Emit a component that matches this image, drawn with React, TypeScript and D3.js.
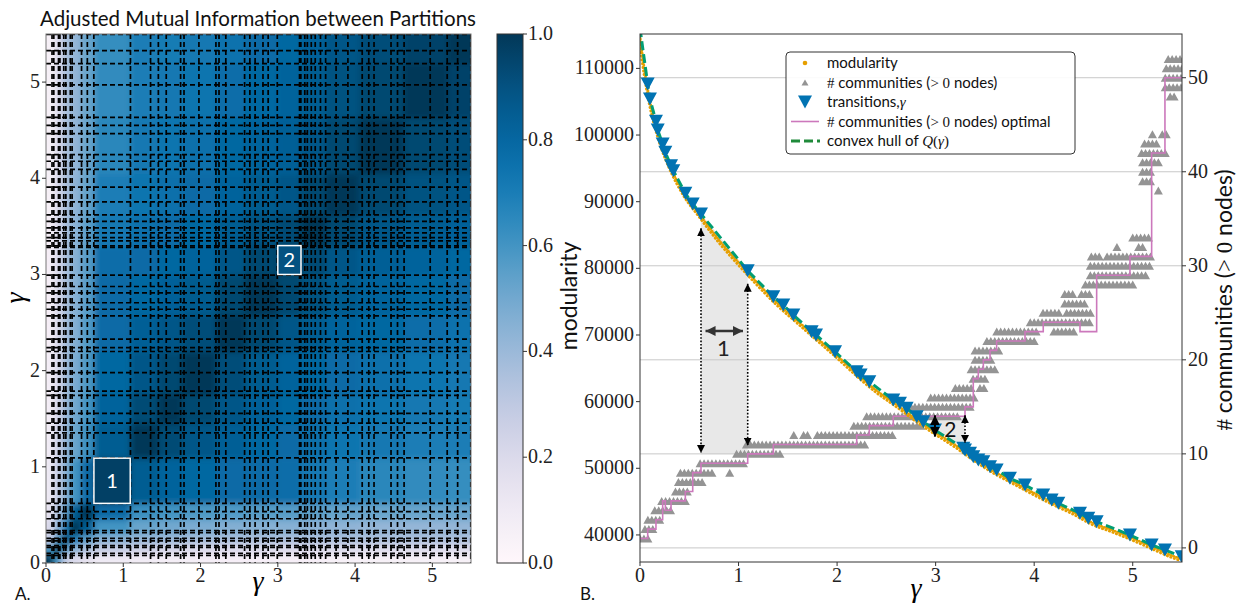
import { useEffect, useRef } from 'react';
import * as d3 from 'd3';

const W = 1241;
const H = 607;
const SERIF = '"Liberation Serif", "DejaVu Serif", serif';
const SANS = 'Lato, "Open Sans", sans-serif';

// ---------- panel A : AMI between partitions ----------
const HEAT_EDGES = [0, 0.1, 0.2, 0.3, 0.45, 0.62, 1.09, 1.45, 1.76, 2.2, 2.58, 3.0, 3.3, 3.62, 4.05, 4.63, 5.2, 5.5];

// rows = y blocks (bottom to top), columns = x blocks (left to right)
const AMI = [
  [1.00, .60, .30, .20, .15, .10, .08, .07, .07, .06, .06, .06, .06, .05, .05, .05, .05],
  [.60, 1.00, .60, .45, .35, .28, .25, .22, .20, .20, .20, .20, .20, .20, .18, .18, .18],
  [.30, .60, 1.00, .70, .55, .45, .42, .40, .38, .37, .36, .36, .36, .36, .36, .36, .36],
  [.20, .45, .70, 1.00, .85, .60, .52, .50, .48, .46, .45, .45, .44, .43, .42, .42, .42],
  [.15, .35, .55, .85, 1.00, .78, .62, .60, .58, .57, .56, .56, .55, .53, .52, .52, .52],
  [.10, .28, .45, .60, .78, 1.00, .85, .82, .80, .78, .78, .77, .72, .70, .66, .64, .63],
  [.08, .25, .42, .52, .62, .85, 1.00, .93, .88, .84, .80, .78, .76, .74, .72, .70, .70],
  [.07, .22, .40, .50, .60, .82, .93, 1.00, .94, .88, .83, .80, .78, .76, .74, .72, .71],
  [.07, .20, .38, .48, .58, .80, .88, .94, 1.00, .92, .86, .82, .80, .78, .76, .74, .72],
  [.06, .20, .37, .46, .57, .78, .84, .88, .92, 1.00, .94, .88, .85, .82, .80, .77, .75],
  [.06, .20, .36, .45, .56, .78, .80, .83, .86, .94, 1.00, .94, .90, .86, .82, .80, .78],
  [.06, .20, .36, .45, .56, .77, .78, .80, .82, .88, .94, 1.00, .93, .88, .84, .82, .80],
  [.06, .20, .36, .44, .55, .72, .76, .78, .80, .85, .90, .93, 1.00, .94, .88, .85, .83],
  [.05, .20, .36, .43, .53, .70, .74, .76, .78, .82, .86, .88, .94, 1.00, .94, .90, .88],
  [.05, .18, .36, .42, .52, .66, .72, .74, .76, .80, .82, .84, .88, .94, 1.00, .94, .92],
  [.05, .18, .36, .42, .52, .64, .70, .72, .74, .77, .80, .82, .85, .90, .94, 1.00, .96],
  [.05, .18, .36, .42, .52, .63, .70, .71, .72, .75, .78, .80, .83, .88, .92, .96, 1.00],
];

// highlighted diagonal blocks [gamma0, gamma1, label, ami]
const HEAT_BOXES: [number, number, string, number][] = [
  [0.62, 1.09, '1', 0.97],
  [3.0, 3.3, '2', 0.9],
];

const GAMMA_TICKS = [0, 1, 2, 3, 4, 5];
const CBAR_TICKS = [0, 0.2, 0.4, 0.6, 0.8, 1.0];

// ---------- panel B : modularity vs gamma ----------
// transitions [gamma, modularity]
const TRANSITIONS: [number, number][] = [
  [0.078, 107658], [0.101, 105408], [0.162, 102063], [0.180, 100757], [0.230, 98657], [0.257, 97411],
  [0.315, 95401], [0.338, 94651], [0.460, 91260], [0.535, 89654], [0.619, 88154], [1.093, 79647],
  [1.353, 75746], [1.454, 74500], [1.556, 73000], [1.742, 70494], [1.786, 69999], [1.979, 67493],
  [2.199, 64493], [2.239, 63997], [2.327, 62992], [2.570, 60246], [2.638, 59751], [2.706, 59001],
  [2.808, 57741], [2.875, 56991], [2.993, 55745], [3.281, 53000], [3.298, 52744], [3.349, 52249],
  [3.382, 51739], [3.433, 51244], [3.484, 50989], [3.552, 50239], [3.619, 49744], [3.754, 48498],
  [3.907, 47493], [4.092, 45993], [4.177, 45242], [4.245, 44747], [4.465, 43247], [4.549, 42497],
  [4.634, 41987], [4.972, 39991], [5.192, 38491], [5.327, 37740], [5.497, 36735],
];
const HULL_START: [number, number] = [0, 116000];
const HULL_END: [number, number] = [5.5, 36700];

// sampled modularity [gamma, Q]
const MODULARITY: [number, number][] = [
  [0.0, 115000], [0.05, 109500], [0.1, 105300], [0.2, 99500], [0.3, 95600], [0.45, 91300], [0.62, 87900],
  [0.8, 84400], [1.0, 81000], [1.2, 77800], [1.4, 74800], [1.6, 72200], [1.8, 69600], [2.0, 67000],
  [2.2, 64300], [2.4, 61800], [2.6, 59700], [2.8, 57500], [3.0, 55500], [3.2, 53600], [3.4, 51500],
  [3.6, 49600], [3.8, 48000], [4.0, 46400], [4.2, 44900], [4.4, 43500], [4.6, 41900], [4.8, 40800],
  [5.0, 39600], [5.2, 38300], [5.4, 37000], [5.5, 36500],
];

// optimal number of communities, step starts [gamma, count]
const OPTIMAL_STEPS: [number, number][] = [
  [0, 1], [0.078, 2], [0.162, 3], [0.230, 5], [0.257, 4], [0.315, 5], [0.46, 6], [0.535, 8], [0.619, 9],
  [1.093, 10], [1.353, 11], [2.199, 12], [2.327, 13], [2.570, 14], [3.298, 15], [3.382, 18], [3.433, 19],
  [3.484, 20], [3.552, 21], [3.619, 22], [3.907, 23], [4.092, 24], [4.465, 23], [4.634, 29], [4.972, 31],
  [5.192, 42], [5.327, 50], [5.5, 50],
];

// runs of observed community counts [gamma0, gamma1, count]
const COMMUNITY_RUNS: [number, number, number][] = [
  [0, 0.08, 1], [0.05, 0.13, 2], [0.08, 0.2, 3], [0.15, 0.34, 4], [0.22, 0.47, 5], [0.36, 0.49, 6],
  [0.39, 0.63, 7], [0.41, 0.75, 8], [0.91, 0.91, 8], [0.61, 1.08, 9], [0.98, 1.42, 10], [1.08, 2.3, 11],
  [1.56, 1.56, 12], [1.66, 1.72, 12], [1.8, 2.57, 12], [2.17, 2.86, 13], [2.3, 3.25, 14], [2.75, 3.38, 15],
  [2.95, 3.42, 16], [3.2, 3.38, 17], [3.45, 3.5, 17], [3.38, 3.5, 18], [3.36, 3.6, 19], [3.4, 3.57, 20],
  [3.4, 3.64, 21], [3.52, 4.03, 22], [3.62, 4.05, 23], [4.2, 4.41, 23], [3.96, 4.57, 24], [4.09, 4.28, 25],
  [4.33, 4.57, 25], [4.31, 4.52, 26], [4.31, 4.4, 27], [4.48, 4.58, 27], [4.52, 5.02, 28], [4.57, 5.16, 29],
  [4.57, 5.18, 30], [4.58, 4.67, 31], [4.74, 5.18, 31], [4.84, 4.84, 32], [5.06, 5.1, 32], [5.0, 5.18, 33],
  [5.26, 5.26, 38], [5.1, 5.18, 39], [5.1, 5.18, 40], [5.1, 5.26, 41], [5.09, 5.34, 42], [5.12, 5.27, 43],
  [5.2, 5.23, 44], [5.3, 5.34, 44], [5.38, 5.45, 48], [5.33, 5.5, 49], [5.33, 5.5, 50], [5.34, 5.5, 51],
  [5.36, 5.5, 52],
];

const Q_TICKS = [40000, 50000, 60000, 70000, 80000, 90000, 100000, 110000];
const COUNT_TICKS = [0, 10, 20, 30, 40, 50];

const C_ORANGE = '#e69f00';
const C_BLUE = '#0173b2';
const C_GRAY = '#949494';
const C_PINK = '#cc78bc';
const C_GREEN = '#029e73';

type Part = [string, 'sans' | 'serif' | 'it'];

function richText(g: any, x: number, y: number, parts: Part[], size: number, anchor = 'start') {
  const t = g.append('text').attr('x', x).attr('y', y).attr('font-size', size)
    .attr('text-anchor', anchor).attr('fill', '#111');
  parts.forEach(([s, f]) => {
    t.append('tspan')
      .attr('font-family', f === 'sans' ? SANS : SERIF)
      .attr('font-style', f === 'it' ? 'italic' : 'normal')
      .text(s);
  });
  return t;
}

function drawHeatmap(svg: any) {
  const box = { left: 46, right: 471, top: 34, bottom: 563 };
  const hx = d3.scaleLinear().domain([0, 5.5]).range([box.left, box.right]);
  const hy = d3.scaleLinear().domain([0, 5.5]).range([box.bottom, box.top]);
  const color = d3.scaleSequential(d3.interpolatePuBu).domain([0, 1]);
  const defs = svg.select('defs');

  defs.append('clipPath').attr('id', 'hm-clip').append('rect')
    .attr('x', box.left).attr('y', box.top)
    .attr('width', box.right - box.left).attr('height', box.bottom - box.top);
  defs.append('filter').attr('id', 'hm-blur')
    .attr('x', '-5%').attr('y', '-5%').attr('width', '110%').attr('height', '110%')
    .append('feGaussianBlur').attr('stdDeviation', 3);

  const clip = svg.append('g').attr('clip-path', 'url(#hm-clip)');
  const cells = clip.append('g').attr('filter', 'url(#hm-blur)');
  const last = HEAT_EDGES.length - 2;
  AMI.forEach((row, i) => {
    row.forEach((v, j) => {
      let x0 = hx(HEAT_EDGES[j]), x1 = hx(HEAT_EDGES[j + 1]);
      let y0 = hy(HEAT_EDGES[i + 1]), y1 = hy(HEAT_EDGES[i]);
      if (j === 0) x0 -= 12;
      if (j === last) x1 += 12;
      if (i === 0) y1 += 12;
      if (i === last) y0 -= 12;
      cells.append('rect')
        .attr('x', x0).attr('y', y0)
        .attr('width', x1 - x0 + 0.6).attr('height', y1 - y0 + 0.6)
        .attr('fill', color(v));
    });
  });

  const lines = clip.append('g')
    .attr('stroke', '#000').attr('stroke-width', 1.7).attr('stroke-dasharray', '5 3');
  TRANSITIONS.forEach(([g]) => {
    lines.append('line').attr('x1', hx(g)).attr('x2', hx(g)).attr('y1', box.top).attr('y2', box.bottom);
    lines.append('line').attr('y1', hy(g)).attr('y2', hy(g)).attr('x1', box.left).attr('x2', box.right);
  });

  HEAT_BOXES.forEach(([g0, g1, label, v]) => {
    svg.append('rect')
      .attr('x', hx(g0)).attr('y', hy(g1))
      .attr('width', hx(g1) - hx(g0)).attr('height', hy(g0) - hy(g1))
      .attr('fill', color(v)).attr('stroke', '#fff').attr('stroke-width', 1.5);
    svg.append('text')
      .attr('x', (hx(g0) + hx(g1)) / 2).attr('y', (hy(g0) + hy(g1)) / 2 + 7)
      .attr('text-anchor', 'middle').attr('font-family', SANS).attr('font-size', 20)
      .attr('fill', '#fff').text(label);
  });

  svg.append('rect')
    .attr('x', box.left).attr('y', box.top)
    .attr('width', box.right - box.left).attr('height', box.bottom - box.top)
    .attr('fill', 'none').attr('stroke', '#777').attr('stroke-width', 1);

  const ax = svg.append('g').attr('font-family', SERIF).attr('font-size', 20).attr('fill', '#222');
  GAMMA_TICKS.forEach(t => {
    ax.append('line').attr('x1', box.left - 4).attr('x2', box.left)
      .attr('y1', hy(t)).attr('y2', hy(t)).attr('stroke', '#333');
    ax.append('text').attr('x', box.left - 6).attr('y', hy(t) + 6)
      .attr('text-anchor', 'end').text(t);
    ax.append('line').attr('x1', hx(t)).attr('x2', hx(t))
      .attr('y1', box.bottom).attr('y2', box.bottom + 4).attr('stroke', '#333');
    ax.append('text').attr('x', hx(t)).attr('y', box.bottom + 19)
      .attr('text-anchor', 'middle').text(t);
  });

  svg.append('text').attr('x', 258).attr('y', 590)
    .attr('text-anchor', 'middle').attr('font-family', SERIF).attr('font-style', 'italic')
    .attr('font-size', 28).text('γ');
  svg.append('text').attr('transform', 'translate(24,298) rotate(-90)')
    .attr('text-anchor', 'middle').attr('font-family', SERIF).attr('font-style', 'italic')
    .attr('font-size', 28).text('γ');
  svg.append('text').attr('x', 258).attr('y', 26)
    .attr('text-anchor', 'middle').attr('font-family', SANS).attr('font-size', 20.5)
    .attr('fill', '#111').text('Adjusted Mutual Information between Partitions');
  svg.append('text').attr('x', 15).attr('y', 600)
    .attr('font-family', SANS).attr('font-size', 17).attr('fill', '#111').text('A.');
}

function drawColorbar(svg: any) {
  const cb = { left: 497, right: 523, top: 34, bottom: 563 };
  const cy = d3.scaleLinear().domain([0, 1]).range([cb.bottom, cb.top]);
  const grad = svg.select('defs').append('linearGradient').attr('id', 'cb-grad')
    .attr('x1', 0).attr('y1', 1).attr('x2', 0).attr('y2', 0);
  d3.range(0, 1.0001, 0.05).forEach(t => {
    grad.append('stop').attr('offset', t).attr('stop-color', d3.interpolatePuBu(t));
  });
  svg.append('rect').attr('x', cb.left).attr('y', cb.top)
    .attr('width', cb.right - cb.left).attr('height', cb.bottom - cb.top)
    .attr('fill', 'url(#cb-grad)').attr('stroke', '#333').attr('stroke-width', 1);
  const ax = svg.append('g').attr('font-family', SERIF).attr('font-size', 20).attr('fill', '#222');
  CBAR_TICKS.forEach(t => {
    ax.append('line').attr('x1', cb.right).attr('x2', cb.right + 4)
      .attr('y1', cy(t)).attr('y2', cy(t)).attr('stroke', '#333');
    ax.append('text').attr('x', cb.right + 5).attr('y', cy(t) + 6).text(t.toFixed(1));
  });
}

function drawModularity(svg: any) {
  const box = { left: 640, right: 1182, top: 34, bottom: 562 };
  const x = d3.scaleLinear().domain([0, 5.5]).range([box.left, box.right]);
  const yQ = d3.scaleLinear().domain([35940, 115160]).range([box.bottom, box.top]);
  const yC = d3.scaleLinear().domain([-1.5, 54.65]).range([box.bottom, box.top]);
  const defs = svg.select('defs');

  defs.append('clipPath').attr('id', 'rc-clip').append('rect')
    .attr('x', box.left).attr('y', box.top)
    .attr('width', box.right - box.left).attr('height', box.bottom - box.top);
  const mk = (id: string, w: number, h: number, fill: string) => {
    defs.append('marker').attr('id', id).attr('viewBox', '0 0 10 10')
      .attr('refX', 10).attr('refY', 5).attr('markerUnits', 'userSpaceOnUse')
      .attr('markerWidth', w).attr('markerHeight', h).attr('orient', 'auto-start-reverse')
      .append('path').attr('d', 'M0,0L10,5L0,10Z').attr('fill', fill);
  };
  mk('ah-dot', 8, 8, '#000');
  mk('ah-solid', 10, 10, '#000');
  mk('ah-gray', 11, 10, '#333');

  const plot = svg.append('g').attr('clip-path', 'url(#rc-clip)');

  // shaded gaps
  const shade1 = [[0.619, 88154], [1.093, 79647], [1.093, 52100], [0.619, 52100]];
  plot.append('path')
    .attr('d', 'M' + shade1.map(([g, q]) => `${x(g)},${yQ(q)}`).join('L') + 'Z')
    .attr('fill', '#e8e8e8');
  const s2 = TRANSITIONS.filter(([g]) => g >= 2.993 && g <= 3.298);
  plot.append('path')
    .attr('d', `M${x(2.993)},${yC(14)}L${x(3.298)},${yC(14)}` +
      s2.slice().reverse().map(([g, q]) => `L${x(g)},${yQ(q)}`).join('') + 'Z')
    .attr('fill', '#e8e8e8');

  // grid (twin axis)
  COUNT_TICKS.forEach(t => {
    plot.append('line').attr('x1', box.left).attr('x2', box.right)
      .attr('y1', yC(t)).attr('y2', yC(t)).attr('stroke', '#c8c8c8').attr('stroke-width', 1);
  });

  // community count scatter
  const tri = (cx: number, cy: number, w: number, h: number, up: boolean) =>
    up ? `M${cx},${cy - h / 2}L${cx + w / 2},${cy + h / 2}L${cx - w / 2},${cy + h / 2}Z`
      : `M${cx - w / 2},${cy - h / 2}L${cx + w / 2},${cy - h / 2}L${cx},${cy + h / 2}Z`;
  const grayG = plot.append('g').attr('fill', C_GRAY);
  COMMUNITY_RUNS.forEach(([g0, g1, c]) => {
    const gs = d3.range(g0, g1 + 0.001, 0.04);
    grayG.append('path').attr('d', gs.map(g => tri(x(g), yC(c), 9, 8, true)).join(''));
  });

  // optimal step line
  plot.append('path').datum(OPTIMAL_STEPS)
    .attr('d', d3.line<[number, number]>().x(d => x(d[0])).y(d => yC(d[1])).curve(d3.curveStepAfter))
    .attr('fill', 'none').attr('stroke', C_PINK).attr('stroke-width', 1.6);

  // modularity samples
  const modLine = d3.line<[number, number]>().x(d => x(d[0])).y(d => yQ(d[1])).curve(d3.curveMonotoneX);
  plot.append('path').datum(MODULARITY)
    .attr('d', modLine).attr('transform', 'translate(-1,2.5)')
    .attr('fill', 'none').attr('stroke', C_ORANGE).attr('stroke-width', 2.6)
    .attr('stroke-linecap', 'round').attr('stroke-dasharray', '0.5 3.2');
  plot.append('path').datum(MODULARITY)
    .attr('d', modLine).attr('transform', 'translate(0,0.8)')
    .attr('fill', 'none').attr('stroke', C_ORANGE).attr('stroke-width', 2.6)
    .attr('stroke-linecap', 'round').attr('stroke-dasharray', '0.5 2.4');

  // convex hull
  plot.append('path').datum([HULL_START, ...TRANSITIONS, HULL_END])
    .attr('d', d3.line<[number, number]>().x(d => x(d[0])).y(d => yQ(d[1])))
    .attr('fill', 'none').attr('stroke', C_GREEN).attr('stroke-width', 3)
    .attr('stroke-dasharray', '9 4');

  // transitions
  plot.append('path')
    .attr('d', TRANSITIONS.map(([g, q]) => tri(x(g), yQ(q), 14, 13, false)).join(''))
    .attr('fill', C_BLUE);

  // annotations
  const ann = svg.append('g');
  const arrow = (x1: number, y1: number, x2: number, y2: number, dotted: boolean, id: string, w: number, col: string) => {
    ann.append('line').attr('x1', x1).attr('y1', y1).attr('x2', x2).attr('y2', y2)
      .attr('stroke', col).attr('stroke-width', w)
      .attr('stroke-dasharray', dotted ? '1.6 1.8' : null)
      .attr('marker-start', `url(#${id})`).attr('marker-end', `url(#${id})`);
  };
  arrow(x(0.619), yQ(86000), x(0.619), yQ(52300), true, 'ah-dot', 1.6, '#000');
  arrow(x(1.093), yQ(77700), x(1.093), yQ(53400), true, 'ah-dot', 1.6, '#000');
  arrow(x(0.665), yQ(70600), x(1.045), yQ(70600), false, 'ah-gray', 2.5, '#333');
  arrow(x(2.993), yC(14.1), x(2.993), yQ(54750), false, 'ah-solid', 2, '#000');
  arrow(x(3.298), yC(14.1), x(3.298), yQ(53800), true, 'ah-dot', 1.6, '#000');
  ann.append('text').attr('x', x(0.845)).attr('y', 356).attr('text-anchor', 'middle')
    .attr('font-family', SANS).attr('font-size', 22).attr('fill', '#222').text('1');
  ann.append('text').attr('x', x(3.15)).attr('y', 437).attr('text-anchor', 'middle')
    .attr('font-family', SANS).attr('font-size', 21).attr('fill', '#111').text('2');

  // spines
  svg.append('rect').attr('x', box.left).attr('y', box.top)
    .attr('width', box.right - box.left).attr('height', box.bottom - box.top)
    .attr('fill', 'none').attr('stroke', '#333').attr('stroke-width', 1);

  // ticks
  const ax = svg.append('g').attr('font-family', SERIF).attr('font-size', 20).attr('fill', '#222');
  Q_TICKS.forEach(t => {
    ax.append('line').attr('x1', box.left - 4).attr('x2', box.left)
      .attr('y1', yQ(t)).attr('y2', yQ(t)).attr('stroke', '#333');
    ax.append('text').attr('x', box.left - 6).attr('y', yQ(t) + 6)
      .attr('text-anchor', 'end').text(t);
  });
  COUNT_TICKS.forEach(t => {
    ax.append('line').attr('x1', box.right).attr('x2', box.right + 4)
      .attr('y1', yC(t)).attr('y2', yC(t)).attr('stroke', '#333');
    ax.append('text').attr('x', box.right + 6).attr('y', yC(t) + 6).text(t);
  });
  GAMMA_TICKS.forEach(t => {
    ax.append('line').attr('x1', x(t)).attr('x2', x(t))
      .attr('y1', box.bottom).attr('y2', box.bottom + 4).attr('stroke', '#333');
    ax.append('text').attr('x', x(t)).attr('y', box.bottom + 20)
      .attr('text-anchor', 'middle').text(t);
  });

  // axis labels
  svg.append('text').attr('x', 916).attr('y', 597)
    .attr('text-anchor', 'middle').attr('font-family', SERIF).attr('font-style', 'italic')
    .attr('font-size', 28).text('γ');
  svg.append('text').attr('transform', 'translate(577,296) rotate(-90)')
    .attr('text-anchor', 'middle').attr('font-family', SANS).attr('font-size', 23)
    .attr('fill', '#111').text('modularity');
  const rl = svg.append('g').attr('transform', 'translate(1232,300) rotate(-90)');
  richText(rl, 0, 0, [['#', 'serif'], [' communities (', 'sans'], ['> 0', 'serif'], [' nodes)', 'sans']], 23, 'middle');
  svg.append('text').attr('x', 580).attr('y', 600)
    .attr('font-family', SANS).attr('font-size', 17).attr('fill', '#111').text('B.');

  // legend
  const lg = svg.append('g');
  lg.append('rect').attr('x', 786).attr('y', 52).attr('width', 289).attr('height', 102)
    .attr('rx', 4).attr('fill', '#fff').attr('fill-opacity', 0.9)
    .attr('stroke', '#333').attr('stroke-width', 1);
  const rows = [63, 82.5, 102, 121.5, 141];
  const tx = 827;
  const fs = 15;
  lg.append('circle').attr('cx', 805).attr('cy', rows[0]).attr('r', 2.3).attr('fill', C_ORANGE);
  richText(lg, tx, rows[0] + 5, [['modularity', 'sans']], fs);
  lg.append('path').attr('d', tri(805, rows[1], 7, 6, true)).attr('fill', C_GRAY);
  richText(lg, tx, rows[1] + 5, [['#', 'serif'], [' communities (', 'sans'], ['> 0', 'serif'], [' nodes)', 'sans']], fs);
  lg.append('path').attr('d', tri(805, rows[2], 14, 13, false)).attr('fill', C_BLUE);
  richText(lg, tx, rows[2] + 5, [['transitions,', 'sans'], ['γ', 'it']], fs);
  lg.append('line').attr('x1', 791).attr('x2', 819).attr('y1', rows[3]).attr('y2', rows[3])
    .attr('stroke', C_PINK).attr('stroke-width', 1.6);
  richText(lg, tx, rows[3] + 5, [['#', 'serif'], [' communities (', 'sans'], ['> 0', 'serif'], [' nodes) optimal', 'sans']], fs);
  lg.append('line').attr('x1', 791).attr('x2', 820).attr('y1', rows[4]).attr('y2', rows[4])
    .attr('stroke', '#1f8a3a').attr('stroke-width', 3).attr('stroke-dasharray', '9 4');
  richText(lg, tx, rows[4] + 5, [['convex hull of ', 'sans'], ['Q', 'it'], ['(', 'serif'], ['γ', 'it'], [')', 'serif']], fs);
}

export default function App() {
  const ref = useRef<SVGSVGElement>(null);

  useEffect(() => {
    const svg = d3.select(ref.current);
    svg.selectAll('*').remove();
    svg.append('defs');
    drawHeatmap(svg);
    drawColorbar(svg);
    drawModularity(svg);
  }, []);

  return (
    <svg ref={ref} width={W} height={H}
      style={{ position: 'absolute', left: 0, top: 0, background: '#fff' }} />
  );
}
